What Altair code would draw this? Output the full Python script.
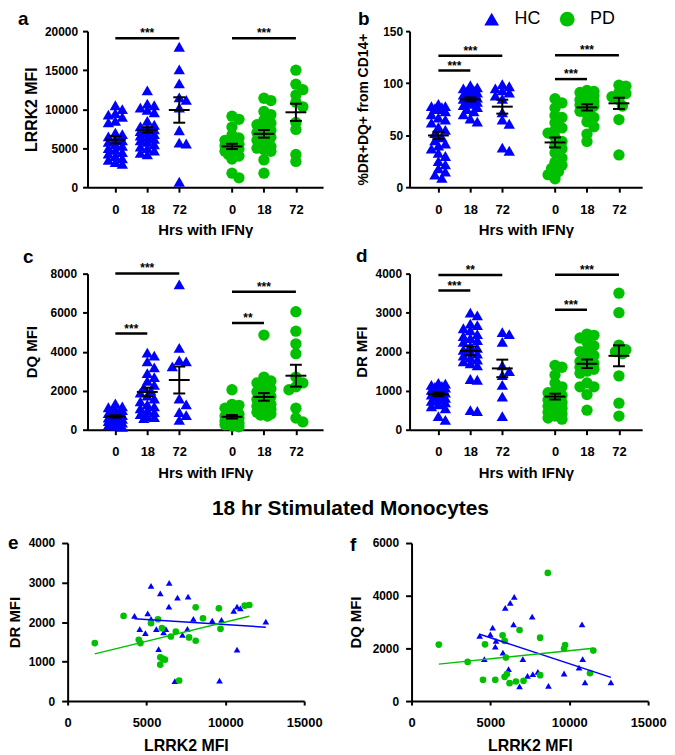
import math
import altair as alt
import pandas as pd

FONT = "Liberation Sans"
BLUE = "#0000ff"
GREEN = "#00c000"
GROUPS = ["HC", "PD"]
TIME_LABELS = ["0", "18", "72"]
X_TITLE_DOT = "Hrs with IFNγ"
X_TITLE_SCAT = "LRRK2 MFI"
MAIN_TITLE = "18 hr Stimulated Monocytes"

# ---------------- panel a : LRRK2 MFI ----------------
A_HC_0 = [10500, 10000, 9500, 9300, 9000, 8500, 8300, 7000, 6800, 6500, 6200, 6000, 5800, 5500, 5300, 5000, 4800, 4500, 4300, 4000, 3700, 3500, 3200, 3000]
A_HC_18 = [12400, 10700, 10500, 10200, 9900, 9600, 8500, 8000, 7800, 7600, 7400, 7200, 7000, 6800, 6600, 6400, 6200, 6000, 5800, 5500, 5200, 5000, 4700, 4400, 4200]
A_HC_72 = [18000, 15100, 13300, 11500, 11200, 10200, 7300, 5700, 5600, 700]
A_PD_0 = [9100, 8700, 7700, 6700, 6300, 6000, 5700, 5500, 5300, 5200, 5000, 4900, 4800, 4600, 4500, 4200, 4000, 3600, 1800, 1200]
A_PD_18 = [11400, 11100, 9700, 9300, 8600, 8200, 8000, 7600, 7300, 7000, 6700, 6400, 6000, 5600, 5200, 5000, 4800, 4600, 3500, 1800]
A_PD_72 = [15000, 13200, 12500, 11800, 10900, 10300, 8300, 7400, 4200, 3300]
A_MEAN_HC = [6074, 7346, 9893]
A_SEM_HC = [470, 340, 1630]
A_MEAN_PD = [5223, 6838, 9597]
A_SEM_PD = [340, 490, 1100]
A_SIG = [(0, 0, 2, 19100, "***"), (1, 0, 2, 19100, "***")]

# ---------------- panel b : %DR+DQ+ from CD14+ ----------------
B_HC_0 = [80, 78, 78, 77, 76, 75, 73, 70, 67, 65, 62, 58, 55, 52, 48, 45, 42, 40, 37, 33, 30, 25, 22, 18, 15, 12, 9]
B_HC_18 = [98, 96, 95, 94, 93, 92, 91, 90, 89, 88, 87, 86, 85, 85, 84, 83, 82, 80, 79, 77, 75, 73, 70, 66, 63]
B_HC_72 = [99, 97, 95, 93, 91, 88, 85, 72, 65, 61, 38, 35]
B_PD_0 = [85, 81, 76, 69, 67, 62, 57, 55, 52, 48, 44, 40, 37, 33, 28, 24, 21, 18, 15, 12, 8]
B_PD_18 = [93, 92, 91, 90, 89, 88, 86, 84, 82, 80, 79, 78, 77, 75, 73, 70, 67, 63, 58, 51, 44]
B_PD_72 = [98, 97, 91, 90, 87, 84, 78, 65, 31]
B_MEAN_HC = [49.7, 84.4, 77.4]
B_SEM_HC = [3.5, 1.9, 6.7]
B_MEAN_PD = [43.0, 76.7, 80.6]
B_SEM_PD = [4.8, 3.0, 5.4]
B_SIG = [(0, 0, 2, 126.4, "***"), (0, 0, 1, 112.1, "***"), (1, 0, 2, 126.8, "***"), (1, 0, 1, 103.9, "***")]

# ---------------- panel c : DQ MFI ----------------
C_HC_0 = [1350, 1200, 1150, 1050, 1000, 950, 900, 850, 800, 750, 700, 650, 620, 600, 560, 520, 480, 440, 400, 360, 320, 280, 240, 200, 150]
C_HC_18 = [3950, 3800, 3500, 3200, 2900, 2700, 2500, 2300, 2150, 2000, 1900, 1750, 1600, 1450, 1300, 1200, 1100, 1000, 900, 800, 700, 650, 600]
C_HC_72 = [7450, 4200, 3550, 3500, 3250, 1600, 1300, 900, 750, 500]
C_PD_0 = [2050, 1300, 1250, 1100, 900, 800, 700, 650, 600, 550, 500, 450, 400, 350, 300, 300, 250, 200, 150]
C_PD_18 = [4850, 2700, 2500, 2400, 2250, 2100, 1950, 1800, 1700, 1550, 1450, 1300, 1200, 1100, 1050, 1000, 950, 900, 850, 800, 750, 700]
C_PD_72 = [6050, 5050, 4400, 3900, 2700, 2400, 2200, 2050, 1100, 600, 400]
C_MEAN_HC = [680, 1937, 2548]
C_SEM_HC = [60, 220, 690]
C_MEAN_PD = [662, 1682, 2769]
C_SEM_PD = [90, 195, 560]
C_SIG = [(0, 0, 2, 8010, "***"), (0, 0, 1, 4930, "***"), (1, 0, 2, 7070, "***"), (1, 0, 1, 5470, "**")]

# ---------------- panel d : DR MFI ----------------
D_HC_0 = [1200, 1180, 1150, 1120, 1100, 1080, 1050, 1020, 1000, 980, 950, 920, 900, 880, 850, 820, 780, 740, 700, 650, 600, 550, 350, 250]
D_HC_18 = [3000, 2930, 2720, 2680, 2600, 2550, 2450, 2400, 2350, 2300, 2250, 2150, 2100, 2050, 2000, 1950, 1900, 1850, 1800, 1750, 1700, 1650, 1300, 1280, 500, 480]
D_HC_72 = [2500, 2450, 2250, 1650, 1500, 1400, 1150, 850, 350]
D_PD_0 = [1650, 1600, 1400, 1200, 1100, 1000, 950, 880, 820, 760, 700, 650, 600, 550, 500, 450, 400, 350, 300, 270]
D_PD_18 = [2450, 2420, 2350, 2250, 2150, 2050, 2000, 1900, 1850, 1750, 1700, 1650, 1600, 1550, 1500, 1450, 1200, 1100, 1100, 900, 500]
D_PD_72 = [3500, 3000, 2170, 2050, 2000, 1950, 1380, 680, 350]
D_MEAN_HC = [909, 2021, 1571]
D_SEM_HC = [50, 115, 225]
D_MEAN_PD = [849, 1690, 1894]
D_SEM_PD = [75, 110, 268]
D_SIG = [(0, 0, 2, 3967, "**"), (0, 0, 1, 3567, "***"), (1, 0, 2, 3972, "***"), (1, 0, 1, 3075, "***")]

# ---------------- panel e : DR MFI vs LRRK2 MFI (18 hr) ----------------
E_HC_X = [5287, 6441, 5874, 6965, 7637, 6420, 4238, 5077, 5287, 7972, 9756, 10532, 10742, 10952, 9168, 12567, 4573, 4930, 5623, 6084, 6231, 7280, 7595, 5770, 10742, 6798, 9630]
E_HC_Y = [2918, 2994, 2725, 2616, 2642, 2390, 2155, 2222, 2080, 2080, 2055, 2281, 2390, 2348, 2038, 2013, 1820, 1719, 1820, 1736, 1820, 1677, 1828, 1317, 1300, 503, 520]
E_PD_X = [1720, 3546, 4511, 4616, 5287, 5728, 5979, 5874, 6021, 5874, 6168, 6861, 6546, 7700, 8119, 8119, 8581, 9588, 9693, 7070, 11224, 11518]
E_PD_Y = [1468, 2155, 1551, 1468, 1971, 2071, 1845, 1107, 1073, 922, 1048, 1761, 1635, 1610, 1526, 2373, 2097, 2348, 1828, 520, 2415, 2432]

# ---------------- panel f : DQ MFI vs LRRK2 MFI (18 hr) ----------------
F_HC_X = [4319, 4994, 5141, 5352, 5309, 4614, 5794, 5942, 6258, 6511, 6468, 7648, 6152, 7058, 6848, 7353, 7690, 8007, 8681, 9671, 10619, 10809, 10851, 10999, 12642]
F_HC_Y = [2471, 2534, 2786, 2282, 2067, 1588, 1840, 3542, 3731, 3958, 2912, 3202, 1210, 1588, 555, 958, 1021, 1109, 580, 1046, 1273, 2912, 1588, 706, 706]
F_PD_X = [1728, 3561, 4657, 4530, 5309, 5773, 5900, 5984, 5900, 6047, 6216, 6616, 7100, 6848, 8154, 8154, 8639, 9671, 9734, 11315, 11525]
F_PD_Y = [2143, 1487, 2155, 807, 807, 2496, 2282, 1651, 920, 1021, 681, 744, 769, 2697, 2408, 983, 4866, 1992, 2130, 1059, 1916]

# ---------------- layout helpers ----------------
GAP = 3.65          # x units between the HC and PD blocks
PPU = 32.15         # px per x unit in the dot plots
DOT_H = 157
SCAT_H = 186


def pos(g, t):
    return 1 + t + GAP * g


POS = [pos(g, t) for g in range(2) for t in range(3)]
_labs = TIME_LABELS * 2
LABEL_EXPR = "".join(
    f"datum.value < {(POS[i] + POS[i + 1]) / 2:.4f} ? '{_labs[i]}' : " for i in range(5)
) + f"'{_labs[5]}'"

COLOR_SCALE = alt.Scale(domain=GROUPS, range=[BLUE, GREEN])
SHAPE_SCALE = alt.Scale(domain=GROUPS, range=["triangle-up", "circle"])

AX_STYLE = dict(
    labelFont=FONT, labelFontWeight="bold", labelColor="black",
    titleFont=FONT, titleFontWeight="bold", titleColor="black",
    tickColor="black", tickWidth=2, domainColor="black", domainWidth=2,
    grid=False, labelFlush=False, labelOverlap=False,
)


def swarm_offsets(vals, px_per_val, dmin=7.0, step=3.5, maxk=2):
    placed, offs = [], []
    for v in vals:
        y = v * px_per_val
        cands = [0.0]
        for k in range(1, maxk + 1):
            cands += [k * step, -k * step]
        best, best_d = 0.0, -1.0
        for c in cands:
            md = min((math.hypot(c - px, y - py) for px, py in placed), default=1e9)
            if md >= dmin:
                best = c
                break
            if md > best_d:
                best_d, best = md, c
        placed.append((best, y))
        offs.append(best)
    return offs


def letter_layer(letter, lx, ly):
    return alt.Chart(pd.DataFrame({"t": [letter]})).mark_text(
        font=FONT, fontSize=19, fontWeight="bold", align="left", baseline="alphabetic", color="black"
    ).encode(text="t:N", x=alt.value(lx), y=alt.value(ly))


def dot_panel(letter, lxy, hc, pdv, means, sems, sig, ymax, ystep, ytitle, ytitle_size,
              ytitle_x, ytick, ylab_pad, xr, first_px, width, legend=None):
    x0 = 1 - first_px / PPU
    x1 = x0 + (xr[1] - xr[0]) / PPU
    xs = alt.Scale(domain=[x0, x1], range=list(xr), nice=False, zero=False)
    ys = alt.Scale(domain=[0, ymax], nice=False, zero=True)
    xaxis = alt.Axis(values=POS, labelExpr=LABEL_EXPR, title=X_TITLE_DOT, titleY=36,
                     titleBaseline="top", titleFontSize=15, labelFontSize=13, labelPadding=11,
                     tickSize=5, **AX_STYLE)
    yaxis = alt.Axis(values=list(range(0, ymax + 1, ystep)), format="d", title=ytitle,
                     titleX=ytitle_x, titleAngle=270, titleBaseline="bottom", titleAlign="center",
                     titleFontSize=ytitle_size, labelFontSize=12, labelPadding=ylab_pad,
                     tickSize=ytick, offset=-xr[0], **AX_STYLE)
    ppv = DOT_H / ymax
    rows = []
    for g, sets in enumerate([hc, pdv]):
        for t, vals in enumerate(sets):
            for v, o in zip(vals, swarm_offsets(vals, ppv)):
                rows.append({"grp": GROUPS[g], "x": pos(g, t) + o / PPU, "v": v})
    pts = pd.DataFrame(rows)
    summ = pd.DataFrame([
        {"x": pos(g, t), "m": means[g][t], "lo": means[g][t] - sems[g][t], "hi": means[g][t] + sems[g][t]}
        for g in range(2) for t in range(3)
    ])
    sigdf = pd.DataFrame([
        {"x1": pos(g, a), "x2": pos(g, b), "xm": (pos(g, a) + pos(g, b)) / 2, "y": y, "lab": lab}
        for g, a, b, y, lab in sig
    ])
    X = lambda f: alt.X(f, scale=xs, axis=xaxis)
    Y = lambda f: alt.Y(f, scale=ys, axis=yaxis)

    points = alt.Chart(pts).mark_point(filled=True, size=130, opacity=1, strokeWidth=0).encode(
        x=X("x:Q"), y=Y("v:Q"),
        color=alt.Color("grp:N", scale=COLOR_SCALE, legend=legend),
        shape=alt.Shape("grp:N", scale=SHAPE_SCALE, legend=legend),
    )
    base = alt.Chart(summ)
    mean_t = base.mark_tick(orient="horizontal", size=21, thickness=2, color="black", opacity=1).encode(x=X("x:Q"), y=Y("m:Q"))
    cap_lo = base.mark_tick(orient="horizontal", size=12, thickness=2, color="black", opacity=1).encode(x=X("x:Q"), y=Y("lo:Q"))
    cap_hi = base.mark_tick(orient="horizontal", size=12, thickness=2, color="black", opacity=1).encode(x=X("x:Q"), y=Y("hi:Q"))
    sem_r = base.mark_rule(strokeWidth=2, color="black").encode(x=X("x:Q"), y=Y("lo:Q"), y2="hi:Q")
    sig_r = alt.Chart(sigdf).mark_rule(strokeWidth=2.5, color="black").encode(x=X("x1:Q"), x2="x2:Q", y=Y("y:Q"))
    sig_t = alt.Chart(sigdf).mark_text(font=FONT, fontSize=12, fontWeight="bold", baseline="alphabetic",
                                       align="center", dy=-1, color="black").encode(x=X("xm:Q"), y=Y("y:Q"), text="lab:N")
    return alt.layer(points, mean_t, sem_r, cap_lo, cap_hi, sig_r, sig_t,
                     letter_layer(letter, *lxy)).properties(width=width, height=DOT_H)


def scatter_panel(letter, lxy, hx, hy, px_, py_, ymax, ystep, ytitle, ytitle_x, xr, width, title=None):
    xs = alt.Scale(domain=[0, 15000], range=list(xr), nice=False, zero=True)
    ys = alt.Scale(domain=[0, ymax], range=[SCAT_H, 27], nice=False, zero=True)
    xaxis = alt.Axis(values=[0, 5000, 10000, 15000], format="d", title=X_TITLE_SCAT, titleY=37,
                     titleBaseline="top", titleFontSize=16, labelFontSize=13, labelPadding=12,
                     tickSize=4, **AX_STYLE)
    yaxis = alt.Axis(values=list(range(0, ymax + 1, ystep)), format="d", title=ytitle,
                     titleX=ytitle_x, titleAngle=270, titleBaseline="bottom", titleAlign="center",
                     titleFontSize=15, labelFontSize=12, labelPadding=7, tickSize=6,
                     offset=-xr[0], **AX_STYLE)
    df = pd.DataFrame(
        [{"grp": "HC", "x": a, "y": b} for a, b in zip(hx, hy)]
        + [{"grp": "PD", "x": a, "y": b} for a, b in zip(px_, py_)]
    )
    points = alt.Chart(df).mark_point(filled=True, size=45, opacity=1, strokeWidth=0).encode(
        x=alt.X("x:Q", scale=xs, axis=xaxis), y=alt.Y("y:Q", scale=ys, axis=yaxis),
        color=alt.Color("grp:N", scale=COLOR_SCALE, legend=None),
        shape=alt.Shape("grp:N", scale=SHAPE_SCALE, legend=None),
    )
    fit = alt.Chart(df).transform_regression("x", "y", groupby=["grp"]).mark_line(strokeWidth=1.5).encode(
        x=alt.X("x:Q", scale=xs, axis=xaxis), y=alt.Y("y:Q", scale=ys, axis=yaxis),
        color=alt.Color("grp:N", scale=COLOR_SCALE, legend=None),
    )
    layers = [points, fit, letter_layer(letter, *lxy)]
    if title:
        layers.append(alt.Chart(pd.DataFrame({"t": [title]})).mark_text(
            font=FONT, fontSize=21, fontWeight="bold", align="center", baseline="alphabetic", color="black"
        ).encode(text="t:N", x=alt.value(284.5), y=alt.value(-1)))
    return alt.layer(*layers).properties(width=width, height=SCAT_H)


LEGEND = alt.Legend(orient="none", legendX=73.6, legendY=-21, direction="horizontal", title=None,
                    labelFont=FONT, labelFontSize=18, labelColor="black", symbolSize=220,
                    labelOffset=14, columnPadding=18, padding=0, symbolStrokeWidth=0, symbolOpacity=1)

pa = dot_panel("a", (-50, -6), [A_HC_0, A_HC_18, A_HC_72], [A_PD_0, A_PD_18, A_PD_72],
               [A_MEAN_HC, A_MEAN_PD], [A_SEM_HC, A_SEM_PD], A_SIG, 20000, 5000,
               "LRRK2 MFI", 16, -48, 5, 5, (20, 257), 28, 257)
pb = dot_panel("b", (-52, -6), [B_HC_0, B_HC_18, B_HC_72], [B_PD_0, B_PD_18, B_PD_72],
               [B_MEAN_HC, B_MEAN_PD], [B_SEM_HC, B_SEM_PD], B_SIG, 150, 50,
               "%DR+DQ+ from CD14+", 14, -39, 4, 3, (0, 234), 29, 240, legend=LEGEND)
pc = dot_panel("c", (-45, -11), [C_HC_0, C_HC_18, C_HC_72], [C_PD_0, C_PD_18, C_PD_72],
               [C_MEAN_HC, C_MEAN_PD], [C_SEM_HC, C_SEM_PD], C_SIG, 8000, 2000,
               "DQ MFI", 15, -48, 5, 6, (20, 257), 28, 257)
pd_ = dot_panel("d", (-54, -12), [D_HC_0, D_HC_18, D_HC_72], [D_PD_0, D_PD_18, D_PD_72],
                [D_MEAN_HC, D_MEAN_PD], [D_SEM_HC, D_SEM_PD], D_SIG, 4000, 1000,
                "DR MFI", 15, -40, 4, 4, (0, 234), 29, 240)
pe = scatter_panel("e", (-60, 33), E_HC_X, E_HC_Y, E_PD_X, E_PD_Y, 4000, 1000, "DR MFI", -45,
                   (0, 238), 257, title=MAIN_TITLE)
pf = scatter_panel("f", (-60, 35), F_HC_X, F_HC_Y, F_PD_X, F_PD_Y, 6000, 2000, "DQ MFI", -48,
                   (2, 240), 240)

chart = alt.concat(
    pa, pb, pc, pd_, pe, pf, columns=2, spacing=87, align="each", bounds="flush", padding=0
).resolve_scale(color="independent", shape="independent").resolve_legend(
    color="independent", shape="independent"
).configure_view(strokeWidth=0)

chart.save("out.html", embed_options={"renderer": "svg", "actions": False})
